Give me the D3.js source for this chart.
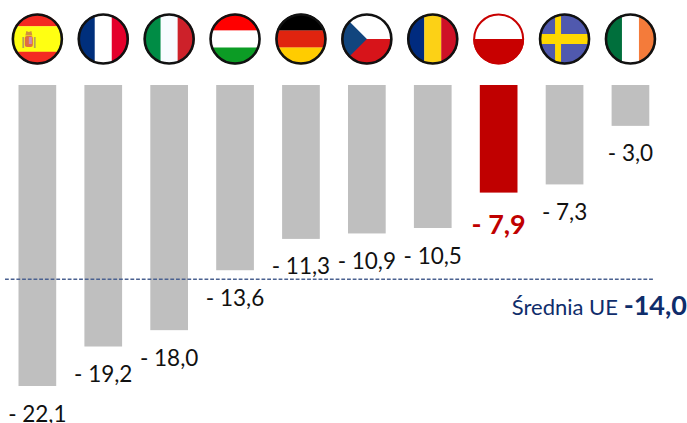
<!DOCTYPE html>
<html>
<head>
<meta charset="utf-8">
<script src="https://cdn.jsdelivr.net/npm/d3@7"></script>
<style>
  html, body { margin: 0; padding: 0; background: #fff; }
  text { font-family: Lato, "Open Sans", sans-serif; }
</style>
</head>
<body>
<div id="chart"></div>
<script>
const countries = ['ES', 'FR', 'IT', 'HU', 'DE', 'CZ', 'RO', 'PL', 'SE', 'IE'];
const values = [-22.1, -19.2, -18.0, -13.6, -11.3, -10.9, -10.5, -7.9, -7.3, -3.0];
const labels = ['- 22,1', '- 19,2', '- 18,0', '- 13,6', '- 11,3', '- 10,9', '- 10,5', '- 7,9', '- 7,3', '- 3,0'];
const highlight = 'PL';
const euAverage = -14.0;

// stripes: direction + colours, the odd flags get extra shapes below
const flagStripes = {
    ES: ['h', ['#f42a22', '#ffff12', '#ffff12', '#f42a22']],
    FR: ['v', ['#002f7c', '#ffffff', '#e4002b']],
    IT: ['v', ['#008c45', '#f8fcff', '#cd212a']],
    HU: ['h', ['#ff0000', '#ffffff', '#0c9c25']],
    DE: ['h', ['#000000', '#e0240f', '#ffcc00']],
    CZ: ['h', ['#ffffff', '#d7141a']],
    RO: ['v', ['#002b7f', '#fcd116', '#ce1126']],
    PL: ['h', ['#ffffff', '#c80000']],
    SE: ['h', ['#5059ae']],
    IE: ['v', ['#006f3c', '#ffffff', '#f47b3a']]
};

const width = 687, height = 423;
const svg = d3.select('#chart').append('svg')
    .attr('width', width)
    .attr('height', height)
    .style('display', 'block');

const x = d3.scaleBand()
    .domain(countries)
    .range([4.4, 663.4])
    .paddingInner(0.428)
    .paddingOuter(0.214);

const y = d3.scaleLinear().domain([0, -22.1]).range([85, 386]);
const cx = c => x(c) + x.bandwidth() / 2;

// bars
svg.selectAll('.bar')
    .data(countries)
    .enter().append('rect')
    .attr('class', 'bar')
    .attr('x', d => x(d))
    .attr('y', y(0))
    .attr('width', x.bandwidth())
    .attr('height', (d, i) => y(values[i]) - y(0))
    .attr('fill', d => d === highlight ? '#c00000' : '#bfbfbf');

// value labels
svg.selectAll('.value')
    .data(countries)
    .enter().append('text')
    .attr('class', 'value')
    .attr('x', d => cx(d))
    .attr('y', (d, i) => y(values[i]) + (d === highlight ? 41 : 35.5))
    .attr('text-anchor', 'middle')
    .attr('font-size', d => d === highlight ? 27 : 22.5)
    .attr('font-weight', d => d === highlight ? 700 : 400)
    .attr('fill', d => d === highlight ? '#c00000' : '#111')
    .text((d, i) => labels[i]);

// average line
svg.append('line')
    .attr('x1', 5)
    .attr('x2', 653)
    .attr('y1', y(euAverage) + 3.5)
    .attr('y2', y(euAverage) + 3.5)
    .attr('stroke', '#4a6190')
    .attr('stroke-width', 1.5)
    .attr('stroke-dasharray', '3.8 1.9');

const avgText = svg.append('text')
    .attr('x', 687)
    .attr('y', 315)
    .attr('text-anchor', 'end')
    .attr('fill', '#0f2d6b');
avgText.append('tspan').attr('font-size', 22).text('Średnia UE ');
avgText.append('tspan').attr('font-size', 27).attr('font-weight', 700)
    .text('-' + d3.format('.1f')(-euAverage).replace('.', ','));

// flags
const r = 25.5, flagY = 39;
const defs = svg.append('defs');

const flags = svg.selectAll('.flag')
    .data(countries)
    .enter().append('g')
    .attr('class', 'flag')
    .attr('transform', d => `translate(${cx(d)},${flagY})`);

flags.each(function(c) {
    const g = d3.select(this);
    defs.append('clipPath').attr('id', 'clip-' + c)
        .append('circle').attr('r', r);
    const inner = g.append('g').attr('clip-path', `url(#clip-${c})`);
    const [dir, cols] = flagStripes[c];
    const s = d3.scaleBand().domain(d3.range(cols.length)).range([-r, r]);
    inner.selectAll('rect')
        .data(cols)
        .enter().append('rect')
        .attr('x', (d, i) => dir === 'v' ? s(i) : -r)
        .attr('y', (d, i) => dir === 'h' ? s(i) : -r)
        .attr('width', dir === 'v' ? s.bandwidth() + 0.2 : 2 * r)
        .attr('height', dir === 'h' ? s.bandwidth() + 0.2 : 2 * r)
        .attr('fill', d => d);

    if (c === 'CZ') {
        inner.append('path').attr('d', `M${-r},${-r}L0,0L${-r},${r}Z`).attr('fill', '#11457e');
    }
    if (c === 'SE') {
        inner.append('rect').attr('x', -9.5).attr('y', -r).attr('width', 6).attr('height', 2 * r).attr('fill', '#ffd800');
        inner.append('rect').attr('x', -r).attr('y', -5).attr('width', 2 * r).attr('height', 10).attr('fill', '#ffd800');
    }
    if (c === 'ES') {
        // small coat of arms
        const arms = inner.append('g').attr('transform', 'translate(-8.5,1)');
        arms.append('rect').attr('x', -6.5).attr('y', -3).attr('width', 1.8).attr('height', 11).attr('fill', '#b5a25a');
        arms.append('rect').attr('x', 5).attr('y', -3).attr('width', 1.8).attr('height', 11).attr('fill', '#b5a25a');
        arms.append('rect').attr('x', -4).attr('y', -4).attr('width', 8).attr('height', 11).attr('rx', 2).attr('fill', '#e0703f');
        arms.append('rect').attr('x', 0).attr('y', -3).attr('width', 3).attr('height', 7).attr('fill', '#c98bb5');
        arms.append('path').attr('d', 'M-3.5,-4.5L-2.5,-9L0,-8L2.5,-9L3.5,-4.5Z').attr('fill', '#d0903f');
    }

    g.append('circle')
        .attr('r', r - 1)
        .attr('fill', 'none')
        .attr('stroke', c === highlight ? '#c80000' : '#111')
        .attr('stroke-width', c === highlight ? 2 : 2.6);
});
</script>
</body>
</html>
